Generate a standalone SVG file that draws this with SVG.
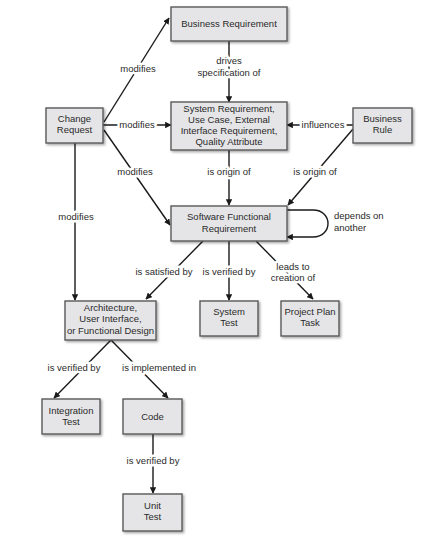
<svg xmlns="http://www.w3.org/2000/svg" width="446" height="538" viewBox="0 0 446 538">
<defs>
<marker id="ah" viewBox="0 0 10 10" refX="9" refY="5" markerWidth="6.5" markerHeight="6.5" markerUnits="userSpaceOnUse" orient="auto"><path d="M0,0 L10,5 L0,10 z" fill="#1a1a1a"/></marker>
<filter id="sh" x="-10%" y="-10%" width="130%" height="140%"><feDropShadow dx="1.5" dy="1.5" stdDeviation="0.8" flood-color="#000" flood-opacity="0.35"/></filter>
</defs>
<style>
.box{fill:#e5e5e7;stroke:#5a5a5a;stroke-width:1.4;filter:url(#sh)}
.t{font-family:"Liberation Sans",Arial,sans-serif;font-size:9.5px;fill:#2a2a2a;text-anchor:middle}
.lbl{font-family:"Liberation Sans",Arial,sans-serif;font-size:9.5px;fill:#2a2a2a;text-anchor:middle;stroke:#fff;stroke-width:5px;paint-order:stroke;stroke-linejoin:round}
.c{fill:none;stroke:#1a1a1a;stroke-width:1.4;marker-end:url(#ah)}
</style>
<rect width="446" height="538" fill="#fff"/>
<g id="connectors">
<path class="c" d="M104,122 L169,18"/>
<path class="c" d="M229,41 L229,102"/>
<path class="c" d="M103,125 L171,125"/>
<path class="c" d="M353,125 L287,125"/>
<path class="c" d="M104,130 L170,225"/>
<path class="c" d="M229,150 L229,205"/>
<path class="c" d="M353,129 L288,205"/>
<path class="c" d="M75,143 L75,300"/>
<path class="c" d="M203,241 L146,299"/>
<path class="c" d="M229,241 L229,300"/>
<path class="c" d="M256,241 L313,299"/>
<path class="c" d="M111,340 L54,398"/>
<path class="c" d="M111,340 L168,398"/>
<path class="c" d="M153,434 L153,493"/>
<path class="c" d="M287,210 H313 C333,210 333,237 313,237 H287"/>
<text class="lbl" x="138" y="72">modifies</text>
<text class="lbl" x="229" y="64">drives</text>
<text class="lbl" x="229" y="76">specification of</text>
<text class="lbl" x="137" y="128">modifies</text>
<text class="lbl" x="323" y="128">influences</text>
<text class="lbl" x="135" y="175">modifies</text>
<text class="lbl" x="229" y="175">is origin of</text>
<text class="lbl" x="315" y="175">is origin of</text>
<text class="lbl" x="76" y="220">modifies</text>
<text class="lbl" x="334" y="219" style="text-anchor:start">depends on</text>
<text class="lbl" x="334" y="231" style="text-anchor:start">another</text>
<text class="lbl" x="164" y="275">is satisfied by</text>
<text class="lbl" x="229" y="275">is verified by</text>
<text class="lbl" x="293" y="270">leads to</text>
<text class="lbl" x="293" y="281">creation of</text>
<text class="lbl" x="74" y="371">is verified by</text>
<text class="lbl" x="159" y="371">is implemented in</text>
<text class="lbl" x="153" y="464">is verified by</text>
</g>
<g id="business-requirement"><rect class="box" x="171" y="7" width="116" height="34"/><text class="t" x="229" y="27">Business Requirement</text></g>
<g id="change-request"><rect class="box" x="46" y="108" width="57" height="35"/><text class="t" x="74.5" y="122">Change</text><text class="t" x="74.5" y="133">Request</text></g>
<g id="system-requirement"><rect class="box" x="171" y="102" width="116" height="48"/><text class="t" x="229" y="112">System Requirement,</text><text class="t" x="229" y="123">Use Case, External</text><text class="t" x="229" y="134">Interface Requirement,</text><text class="t" x="229" y="145">Quality Attribute</text></g>
<g id="business-rule"><rect class="box" x="353" y="108" width="59" height="35"/><text class="t" x="382.5" y="122">Business</text><text class="t" x="382.5" y="133">Rule</text></g>
<g id="software-functional-requirement"><rect class="box" x="171" y="206" width="116" height="35"/><text class="t" x="229" y="220">Software Functional</text><text class="t" x="229" y="232">Requirement</text></g>
<g id="design"><rect class="box" x="65" y="301" width="91" height="39"/><text class="t" x="110.5" y="311">Architecture,</text><text class="t" x="110.5" y="322">User Interface,</text><text class="t" x="110.5" y="334">or Functional Design</text></g>
<g id="system-test"><rect class="box" x="200" y="301" width="58" height="35"/><text class="t" x="229" y="315">System</text><text class="t" x="229" y="326">Test</text></g>
<g id="project-plan-task"><rect class="box" x="281" y="301" width="58" height="35"/><text class="t" x="310" y="315">Project Plan</text><text class="t" x="310" y="326">Task</text></g>
<g id="integration-test"><rect class="box" x="42" y="399" width="58" height="35"/><text class="t" x="71" y="414">Integration</text><text class="t" x="71" y="425">Test</text></g>
<g id="code"><rect class="box" x="123" y="399" width="59" height="35"/><text class="t" x="152.5" y="420">Code</text></g>
<g id="unit-test"><rect class="box" x="123" y="494" width="59" height="37"/><text class="t" x="152.5" y="509">Unit</text><text class="t" x="152.5" y="520">Test</text></g>
</svg>
